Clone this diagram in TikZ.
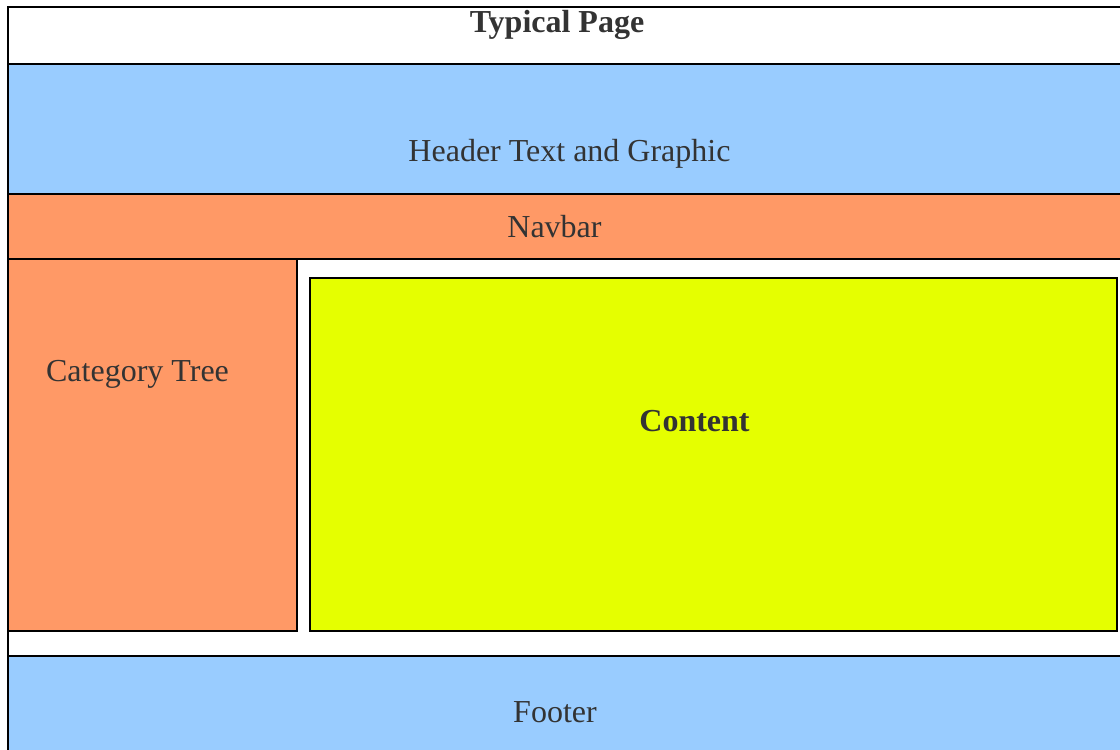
\documentclass[tikz,border=0pt]{standalone}
\usepackage{fontspec}
\setmainfont{Liberation Serif}
\definecolor{headblue}{HTML}{99CCFF}
\definecolor{navorange}{HTML}{FF9966}
\definecolor{contentyellow}{HTML}{E5FF00}
\definecolor{textgray}{HTML}{333333}
\tikzset{
  region/.style={draw=black, line width=2pt, inner sep=0pt, outer sep=0pt, anchor=north west},
  caption/.style={text=textgray, inner sep=0pt, anchor=base, font=\fontsize{32}{36}\selectfont},
  boldcaption/.style={caption, font=\fontsize{32}{36}\selectfont\bfseries}
}
\begin{document}
\begin{tikzpicture}[x=1pt, y=-1pt]
  \useasboundingbox (0,0) rectangle (1120,750);
  \clip (0,0) rectangle (1120,750);
  \fill[white] (0,0) rectangle (1120,750);

  % page frame
  \node[region, fill=white, minimum width=1130pt, minimum height=760pt] (page) at (8,7) {};

  % page sections
  \node[region, fill=headblue, minimum width=1130pt, minimum height=130pt] (header) at (8,64) {};
  \node[region, fill=navorange, minimum width=1130pt, minimum height=65pt] (navbar) at (8,194) {};
  \node[region, fill=navorange, minimum width=289pt, minimum height=372pt] (tree) at (8,259) {};
  \node[region, fill=contentyellow, minimum width=807pt, minimum height=353pt] (content) at (310,278) {};
  \node[region, fill=headblue, minimum width=1130pt, minimum height=110pt] (footer) at (8,656) {};

  % redraw the frame edges on top
  \draw[line width=2.2pt] (8,770) -- (8,7) -- (1130,7);

  % labels
  \node[boldcaption] (title) at (557,32) {Typical Page};
  \node[caption] (headertext) at (569.5,161) {Header Text and Graphic};
  \node[caption] (navtext) at (554.5,237) {Navbar};
  \node[caption] (treetext) at (137.5,381) {Category Tree};
  \node[boldcaption] (contenttext) at (694.5,431) {Content};
  \node[caption] (footertext) at (555,722) {Footer};
\end{tikzpicture}
\end{document}
